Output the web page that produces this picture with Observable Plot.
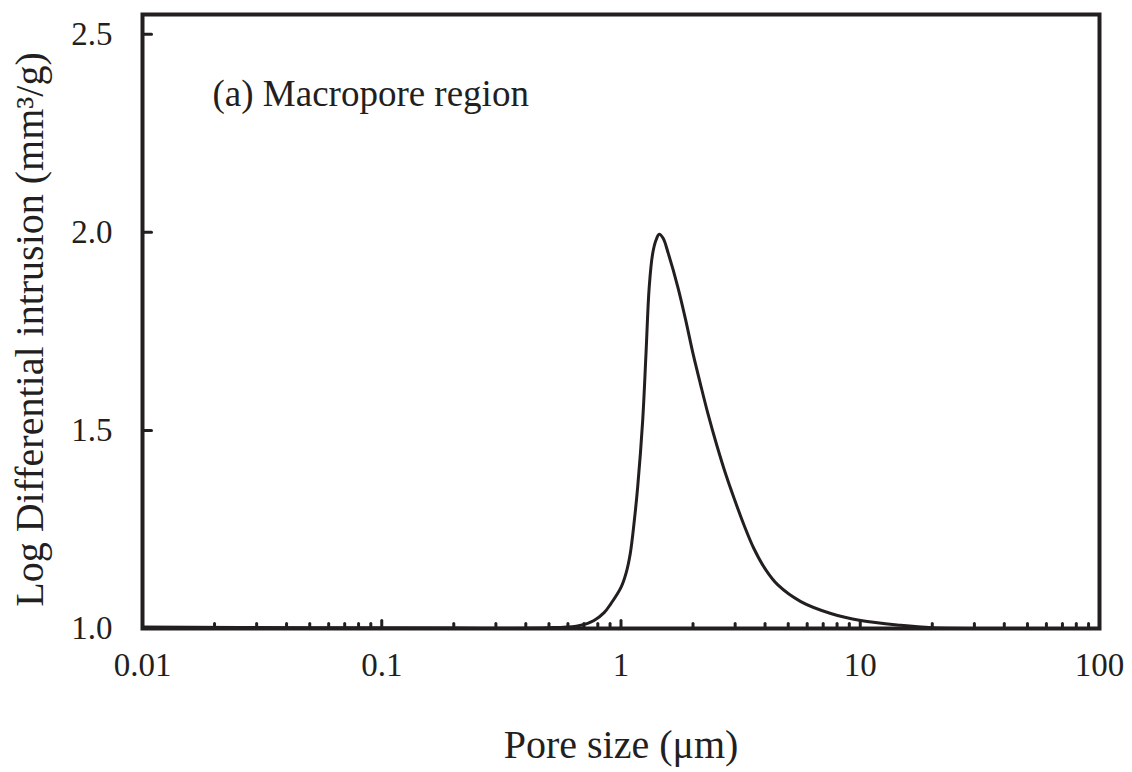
<!DOCTYPE html>
<html>
<head>
<meta charset="utf-8">
<script src="https://cdn.jsdelivr.net/npm/d3@7"></script>
<script src="https://cdn.jsdelivr.net/npm/@observablehq/plot@0.6"></script>
<style>
  html, body { margin: 0; padding: 0; background: #fff; }
  #chart { width: 1132px; height: 772px; }
</style>
</head>
<body>
<div id="chart"></div>
<script>
// Pore size (µm) and log differential intrusion (mm³/g)
const poreSize = [0.01, 0.05, 0.2, 0.5, 0.65, 0.726, 0.771, 0.85, 0.908, 1.0, 1.05, 1.093, 1.137, 1.174, 1.232, 1.272, 1.312, 1.356, 1.40, 1.445, 1.50, 1.576, 1.728, 1.868, 1.998, 2.148, 2.307, 2.516, 2.745, 2.964, 3.263, 3.592, 4.03, 4.525, 5.643, 7.53, 10.05, 14.76, 20, 40, 100];
const intrusion = [1.004, 1.002, 1.001, 1.002, 1.006, 1.013, 1.020, 1.040, 1.063, 1.104, 1.14, 1.189, 1.273, 1.357, 1.525, 1.694, 1.862, 1.946, 1.980, 1.995, 1.985, 1.947, 1.862, 1.776, 1.695, 1.617, 1.543, 1.462, 1.388, 1.330, 1.262, 1.202, 1.148, 1.110, 1.068, 1.038, 1.020, 1.008, 1.002, 1.0, 1.0];

const xTicks = [0.01, 0.1, 1, 10, 100];
const xTickLabels = ["0.01", "0.1", "1", "10", "100"];
const xMajorInner = [0.1, 1, 10];
const xMinor = [0.02, 0.03, 0.04, 0.05, 0.06, 0.07, 0.08, 0.09,
                0.2, 0.3, 0.4, 0.5, 0.6, 0.7, 0.8, 0.9,
                2, 3, 4, 5, 6, 7, 8, 9,
                20, 30, 40, 50, 60, 70, 80, 90];
const yTicks = [1.0, 1.5, 2.0, 2.5];
const yInnerTicks = [1.5, 2.0, 2.5];

const xLabel = "Pore size (μm)";
const yLabel = "Log Differential intrusion (mm³/g)";
const annotation = "(a) Macropore region";

const data = poreSize.map((p, i) => ({p, v: intrusion[i]}));
const ink = "#231f20";
const font = "'Liberation Serif', 'Times New Roman', serif";

const tickShape = {
  draw(context, l) { context.moveTo(0, 0); context.lineTo(0, -l); }
};

const chart = Plot.plot({
  width: 1132,
  height: 772,
  marginLeft: 142,
  marginRight: 33,
  marginTop: 14,
  marginBottom: 144,
  style: {fontFamily: font, fontSize: "33px", color: ink, background: "#fff"},
  x: {type: "log", domain: [0.01, 100]},
  y: {domain: [1, 2.55]},
  marks: [
    Plot.axisX(xTicks, {tickSize: 0, tickPadding: 24, tickFormat: d => xTickLabels[xTicks.indexOf(d)], label: null, fontSize: 33}),
    Plot.axisY(yTicks, {tickSize: 0, tickPadding: 30, tickFormat: d => d.toFixed(1), label: null, fontSize: 33}),
    Plot.vector(xMinor, {x: d => d, y: 1, length: 5, rotate: 0, anchor: "start", shape: tickShape, stroke: ink, strokeWidth: 3}),
    Plot.vector(xMajorInner, {x: d => d, y: 1, length: 8, rotate: 0, anchor: "start", shape: tickShape, stroke: ink, strokeWidth: 3}),
    Plot.vector(yInnerTicks, {x: 0.01, y: d => d, length: 9, rotate: 90, anchor: "start", shape: tickShape, stroke: ink, strokeWidth: 3}),
    Plot.line(data, {x: "p", y: "v", stroke: ink, strokeWidth: 3, curve: "catmull-rom"}),
    Plot.frame({stroke: ink, strokeWidth: 4}),
    Plot.text([annotation], {text: d => d, frameAnchor: "top-left", dx: 70, dy: 80, textAnchor: "start", lineAnchor: "middle", fontSize: 37, fill: ink}),
    Plot.text([xLabel], {text: d => d, frameAnchor: "bottom", dy: 117, textAnchor: "middle", lineAnchor: "middle", fontSize: 40, fill: ink}),
    Plot.text([yLabel], {text: d => d, frameAnchor: "left", dx: -112, dy: 8, rotate: -90, textAnchor: "middle", lineAnchor: "middle", fontSize: 40, fill: ink})
  ]
});

document.getElementById("chart").appendChild(chart);
</script>
</body>
</html>
